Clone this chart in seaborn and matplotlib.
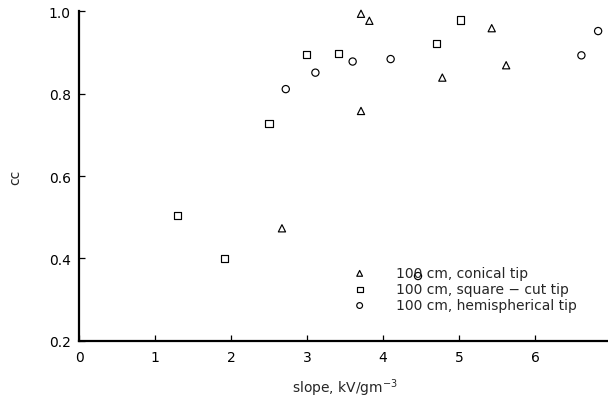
import matplotlib
matplotlib.use("Agg")
import matplotlib.pyplot as plt
import seaborn as sns
import pandas as pd

# Correlation coefficient vs slope for three rod tip shapes
conical_x = [2.67, 3.71, 3.71, 3.82, 4.78, 5.43, 5.62]
conical_y = [0.473, 0.758, 0.994, 0.977, 0.839, 0.959, 0.869]

square_x = [1.30, 1.91, 2.50, 2.99, 3.41, 4.70, 5.02]
square_y = [0.505, 0.399, 0.728, 0.895, 0.897, 0.922, 0.979]

hemi_x = [2.72, 3.11, 3.60, 4.10, 4.46, 6.61, 6.83]
hemi_y = [0.811, 0.851, 0.878, 0.884, 0.357, 0.893, 0.952]

series_labels = ["100 cm, conical tip",
                 "100 cm, square \u2212 cut tip",
                 "100 cm, hemispherical tip"]

x_ticks = [0, 1, 2, 3, 4, 5, 6, 7]
y_ticks = [0.2, 0.4, 0.6, 0.8, 1.0]

sns.set_theme(style="white")
plt.rcParams["font.family"] = ["DejaVu Sans"]
plt.rcParams["mathtext.default"] = "regular"

fig = plt.figure(figsize=(6.08, 4.02), dpi=100)
ax = fig.add_axes([0.130, 0.150, 0.875, 0.8194])

series = [
    (conical_x, conical_y, "^", series_labels[0]),
    (square_x, square_y, "s", series_labels[1]),
    (hemi_x, hemi_y, "o", series_labels[2]),
]
for xs, ys, mk, lab in series:
    df = pd.DataFrame({"slope": xs, "cc": ys})
    sns.scatterplot(data=df, x="slope", y="cc", marker=mk, s=27,
                    facecolor="none", edgecolor="black", linewidth=0.85,
                    label=lab, ax=ax, clip_on=False, zorder=3)

ax.set_xlim(0, 7)
ax.set_ylim(0.2, 1.0)
ax.set_xticks(x_ticks)
ax.set_yticks(y_ticks)
ax.set_xticklabels([str(t) for t in x_ticks])
ax.set_yticklabels([f"{t:.1f}" for t in y_ticks])

for side in ("top", "right"):
    ax.spines[side].set_visible(False)
for side in ("left", "bottom"):
    ax.spines[side].set_linewidth(1.6)
    ax.spines[side].set_color("black")

ax.tick_params(axis="both", direction="in", length=4, width=0.9,
               colors="black", labelsize=10, pad=7)
ax.tick_params(axis="x", bottom=True, pad=7)
ax.tick_params(axis="y", left=True, pad=6)
ax.grid(False)

ax.set_xlabel("slope, kV/gm$^{-3}$", fontsize=10)
ax.set_ylabel("cc", fontsize=10)
ax.xaxis.set_label_coords(0.5, -0.141)
ax.xaxis.label.set_va("center")
ax.yaxis.set_label_coords(-0.120, 0.5)
ax.yaxis.label.set_va("center")

leg = ax.legend(loc="upper left",
                bbox_to_anchor=(352.7 / 608, (402 - 267) / 402),
                bbox_transform=fig.transFigure,
                frameon=False, fontsize=10, borderpad=0, borderaxespad=0,
                handlelength=1.0, handletextpad=2.1, labelspacing=0.15,
                markerscale=0.8)

fig.savefig("out.png", dpi=100, facecolor="white")
